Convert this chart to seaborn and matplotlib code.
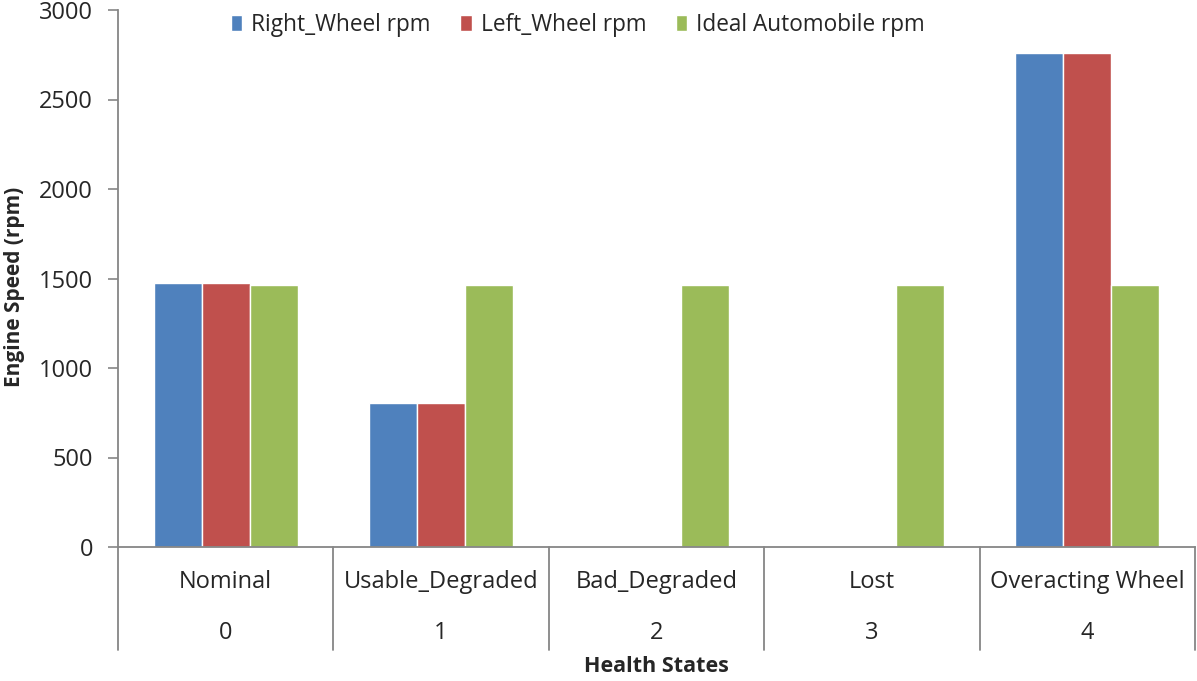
import pandas as pd
import seaborn as sns
import matplotlib.pyplot as plt
from matplotlib.transforms import blended_transform_factory

states = ["Nominal", "Usable_Degraded", "Bad_Degraded", "Lost", "Overacting Wheel"]
state_ids = ["0", "1", "2", "3", "4"]
right_wheel = [1475, 804, 5, 0, 2760]
left_wheel = [1475, 804, 5, 0, 2760]
ideal_auto = [1462, 1462, 1462, 1462, 1462]
series = ["Right_Wheel rpm", "Left_Wheel rpm", "Ideal Automobile rpm"]
colors = ["#4F81BD", "#C0504D", "#9BBB59"]

rows = []
for name, vals in zip(series, [right_wheel, left_wheel, ideal_auto]):
  for st, v in zip(states, vals):
    rows.append({"state": st, "series": name, "rpm": v})
df = pd.DataFrame(rows)

sns.set_style("white")
plt.rcParams['font.family'] = ['Open Sans', 'DejaVu Sans']

fig = plt.figure(figsize=(11.97, 6.81), dpi=100)
ax = fig.add_axes([118/1197, 134/681, 1077/1197, 537/681])

sns.barplot(data=df, x="state", y="rpm", hue="series", order=states, hue_order=series,
            palette=colors, width=0.67, saturation=1, ax=ax, legend=True)

ax.set_xlim(-0.5, 4.5)
ax.set_ylim(0, 3000)
ax.set_yticks([0, 500, 1000, 1500, 2000, 2500, 3000])
ax.tick_params(axis="y", labelsize=17, length=7, width=1.2, color="#868686", pad=11, left=True)
ax.set_xticks([])
ax.set_xlabel("")

gray = "#868686"
for side in ["top", "right"]:
  ax.spines[side].set_visible(False)
for side in ["left", "bottom"]:
  ax.spines[side].set_color(gray)
  ax.spines[side].set_linewidth(1.3)

# two level category labels with separators
tr = blended_transform_factory(ax.transData, ax.transAxes)
for i in range(len(states) + 1):
  ax.plot([i - 0.5, i - 0.5], [0, -0.192], transform=tr, color=gray, lw=1.3, clip_on=False)
for i, (st, sid) in enumerate(zip(states, state_ids)):
  ax.text(i, -0.065, st, transform=tr, ha="center", va="center", fontsize=17)
  ax.text(i, -0.16, sid, transform=tr, ha="center", va="center", fontsize=17)

ax.text(0.5, -0.223, "Health States", transform=ax.transAxes, ha="center", va="center",
        fontsize=15.5, fontweight="bold")
ax.set_ylabel("Engine Speed (rpm)", fontsize=15, fontweight="bold")
ax.yaxis.set_label_coords(-0.086, 0.484)

ax.legend(loc="center", bbox_to_anchor=(578/1197, 1 - 25/681), bbox_transform=fig.transFigure,
          ncol=3, frameon=False, fontsize=16.3, handlelength=0.5, handleheight=0.65,
          handletextpad=0.4, columnspacing=1.3, title=None)

plt.savefig("out.png", dpi=100)
